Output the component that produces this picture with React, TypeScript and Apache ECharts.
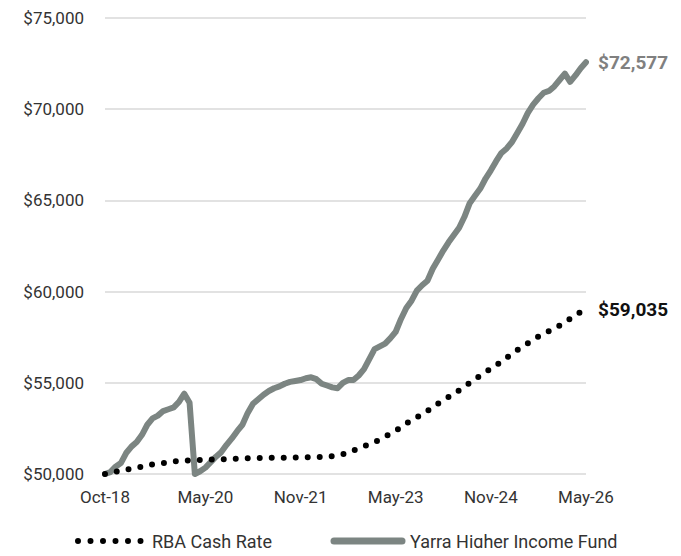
import React, { useEffect, useRef } from "react";
import * as echarts from "echarts";

const monthNames = ["Jan", "Feb", "Mar", "Apr", "May", "Jun", "Jul", "Aug", "Sep", "Oct", "Nov", "Dec"];
const categories: string[] = [];
for (let y = 2018, m = 9; y < 2026 || (y === 2026 && m <= 4); ) {
  categories.push(`${monthNames[m]}-${String(y).slice(2)}`);
  m++;
  if (m > 11) { m = 0; y++; }
}

const tickLabels = ["Oct-18", "May-20", "Nov-21", "May-23", "Nov-24", "May-26"];

const fundName = "Yarra Higher Income Fund";
const rbaName = "RBA Cash Rate";

const fundValues = [
  50000, 50100, 50400, 50600, 51150, 51500, 51750, 52150, 52700, 53050,
  53200, 53450, 53550, 53650, 53950, 54400, 53900, 50000, 50150, 50350,
  50650, 50950, 51200, 51600, 51950, 52350, 52700, 53350, 53850, 54100,
  54350, 54550, 54700, 54800, 54950, 55050, 55100, 55150, 55250, 55300,
  55200, 54950, 54850, 54750, 54700, 55000, 55150, 55150, 55400, 55750,
  56300, 56850, 57000, 57150, 57450, 57800, 58500, 59100, 59500, 60050,
  60350, 60600, 61250, 61750, 62250, 62700, 63100, 63500, 64100, 64850,
  65250, 65650, 66200, 66650, 67150, 67600, 67850, 68200, 68700, 69200,
  69800, 70250, 70600, 70900, 71000, 71250, 71600, 71950, 71500, 71850,
  72250, 72577,
];

const rbaValues = [
  50000, 50060, 50120, 50180, 50240, 50290, 50340, 50400, 50470, 50530,
  50570, 50600, 50640, 50690, 50720, 50740, 50750, 50760, 50770, 50780,
  50790, 50800, 50810, 50820, 50830, 50845, 50860, 50870, 50875, 50880,
  50880, 50885, 50885, 50890, 50890, 50895, 50900, 50905, 50910, 50915,
  50920, 50930, 50950, 50980, 51030, 51090, 51160, 51290, 51400, 51520,
  51630, 51750, 51880, 52050, 52200, 52370, 52560, 52760, 52950, 53110,
  53270, 53460, 53650, 53860, 54060, 54220, 54390, 54590, 54790, 54990,
  55190, 55400, 55590, 55770, 55960, 56170, 56380, 56590, 56800, 56980,
  57170, 57370, 57530, 57690, 57830, 57990, 58140, 58320, 58510, 58720,
  58880, 59035,
];

const fmt = (v: number) => "$" + v.toLocaleString("en-US");

const FUND_COLOR = "#7c8582";

export default function App() {
  const ref = useRef<HTMLDivElement>(null);
  useEffect(() => {
    if (!ref.current) return;
    const chart = echarts.init(ref.current, undefined, { renderer: "svg" });
    const font = "Roboto, 'Noto Sans', sans-serif";
    const legendY = 533;
    chart.setOption({
      animation: false,
      textStyle: { fontFamily: font },
      grid: { left: 97, right: 87, top: 10, bottom: 82, containLabel: false },
      graphic: [
        {
          type: "line",
          shape: { x1: 70, y1: legendY, x2: 133, y2: legendY },
          style: { stroke: "#000", lineWidth: 6, lineDash: [0, 12.5], lineCap: "round" },
        },
        {
          type: "text",
          x: 144,
          y: legendY,
          style: { text: rbaName, fill: "#333", fontSize: 18, fontFamily: font, verticalAlign: "middle", align: "left" },
        },
        {
          type: "line",
          shape: { x1: 326, y1: legendY, x2: 394, y2: legendY },
          style: { stroke: FUND_COLOR, lineWidth: 7, lineCap: "round" },
        },
        {
          type: "text",
          x: 402,
          y: legendY,
          style: { text: fundName, fill: "#333", fontSize: 18, fontFamily: font, verticalAlign: "middle", align: "left" },
        },
      ],
      xAxis: {
        type: "category",
        data: categories,
        boundaryGap: false,
        axisLine: { show: false },
        axisTick: { show: false },
        axisLabel: {
          interval: (_i: number, v: string) => tickLabels.includes(v),
          fontSize: 17,
          color: "#333",
          margin: 14,
          fontFamily: font,
        },
        splitLine: { show: false },
      },
      yAxis: {
        type: "value",
        min: 50000,
        max: 75000,
        interval: 5000,
        axisLine: { show: false },
        axisTick: { show: false },
        axisLabel: {
          formatter: (v: number) => fmt(v),
          fontSize: 17,
          color: "#333",
          margin: 21,
          fontFamily: font,
        },
        splitLine: { lineStyle: { color: "#d9d9d9", width: 1.5 } },
      },
      series: [
        {
          name: fundName,
          type: "line",
          data: fundValues,
          symbol: "none",
          lineStyle: { color: FUND_COLOR, width: 6, cap: "round", join: "round" },
          itemStyle: { color: FUND_COLOR },
          endLabel: {
            show: true,
            formatter: () => fmt(fundValues[fundValues.length - 1]),
            color: "#808080",
            fontWeight: "bold",
            fontSize: 19,
            distance: 12,
            fontFamily: font,
          },
          z: 2,
        },
        {
          name: rbaName,
          type: "line",
          data: rbaValues,
          symbol: "none",
          lineStyle: { color: "#000", width: 6, type: [0, 12], cap: "round" },
          itemStyle: { color: "#000" },
          endLabel: {
            show: true,
            formatter: () => fmt(rbaValues[rbaValues.length - 1]),
            color: "#111",
            fontWeight: "bold",
            fontSize: 19,
            distance: 12,
            fontFamily: font,
          },
          z: 3,
        },
      ],
    });
    return () => chart.dispose();
  }, []);
  return <div ref={ref} style={{ width: 665, height: 548, marginBottom: -8 }} />;
}
